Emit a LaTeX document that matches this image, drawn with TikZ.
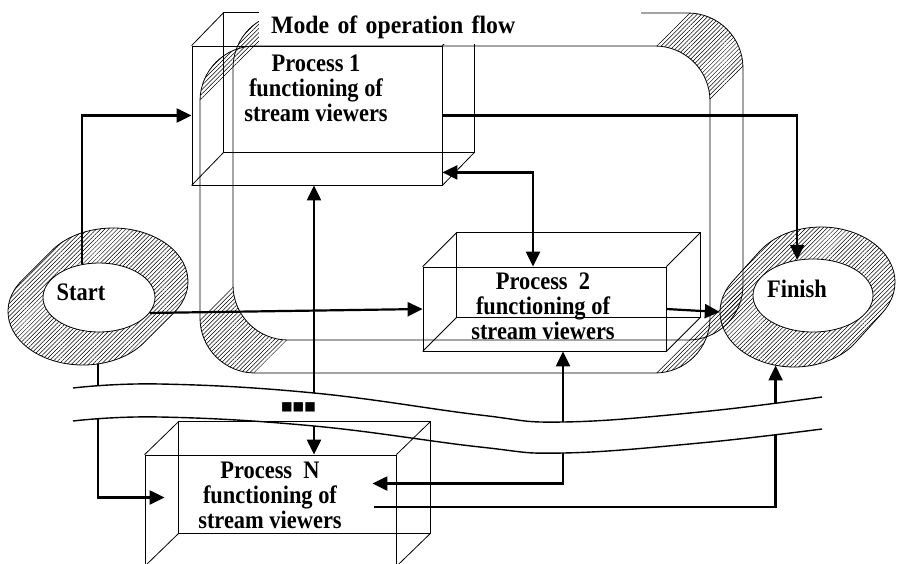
\documentclass[tikz,border=0pt]{standalone}
\usepackage{fontspec}
\setmainfont{Liberation Serif}[FakeStretch=0.89]
\newfontfamily\titlefont{Liberation Serif}[FakeStretch=0.95]
\newfontfamily\symfont{DejaVu Sans}
\usetikzlibrary{shapes.geometric,arrows.meta,calc,patterns.meta}

\tikzset{
  thinline/.style={line width=0.8pt},
  face/.style={draw=black, line width=0.8pt, shape=rectangle, inner sep=0pt},
  hole/.style={draw=black, fill=white, line width=0.8pt, shape=ellipse, inner sep=0pt},
  rim/.style={shape=ellipse, inner sep=0pt},
  lbl/.style={font=\bfseries\fontsize{25.2}{25}\selectfont, align=center, inner sep=0pt},
  hatch/.style={pattern={Lines[angle=45,distance=3pt,line width=0.5pt]}},
  conn/.style={line width=2.2pt, -{Triangle[length=15pt,width=14pt]}},
  conn2/.style={line width=2.2pt, {Triangle[length=15pt,width=14pt]}-{Triangle[length=15pt,width=14pt]}},
  wave/.style={line width=1.4pt},
}

\begin{document}
\begin{tikzpicture}[x=1pt, y=-1pt]
\useasboundingbox (0,0) rectangle (897,563);

% mode of operation frame
\fill[hatch] (655,46) arc[start angle=90,end angle=0,radius=55pt] -- ++(33,-33) arc[start angle=0,end angle=90,radius=55pt] -- cycle;
\fill[hatch] (200,318) arc[start angle=180,end angle=270,radius=55pt] -- ++(33,-33) arc[start angle=270,end angle=180,radius=55pt] -- cycle;
\fill[hatch] (200,101) arc[start angle=180,end angle=90,radius=55pt] -- cycle (233,68) arc[start angle=180,end angle=90,radius=55pt] -- cycle;
\fill[hatch] (655,373) arc[start angle=270,end angle=360,radius=55pt] -- cycle (688,340) arc[start angle=270,end angle=360,radius=55pt] -- cycle;
\draw[thinline, rounded corners=55pt] (200,46) rectangle (710,373);
\draw[thinline, rounded corners=55pt] (233,13) rectangle (743,340);

% start and finish
\node[rim, minimum width=150pt, minimum height=107pt] (sfront) at (83,311.5) {};
\draw[thinline, hatch] ($(sfront.center)+(144.5:75pt and 53.5pt)$) arc[start angle=144.5,end angle=324.5,x radius=75pt,y radius=53.5pt] -- ++(30,-30) arc[start angle=-35.5,end angle=144.5,x radius=75pt,y radius=53.5pt] -- cycle;
\node[hole, minimum width=112pt, minimum height=69pt] (start) at (99,297.5) {};
\node[lbl, anchor=base] (starttxt) at (81,300) {Start};

\node[rim, minimum width=148pt, minimum height=110pt] (ffront) at (794,312) {};
\draw[thinline, hatch] ($(ffront.center)+(146.2:74pt and 55pt)$) arc[start angle=146.2,end angle=326.2,x radius=74pt,y radius=55pt] -- ++(27,-30) arc[start angle=-33.8,end angle=146.2,x radius=74pt,y radius=55pt] -- cycle;
\node[hole, minimum width=120pt, minimum height=73pt] (finish) at (813,295.5) {};
\node[lbl, anchor=base] (finishtxt) at (797,297) {Finish};

% processes
\node[face, minimum width=250pt, minimum height=139pt] (p1) at (317,115.5) {};
\draw[thinline] ($(p1.north west)+(32,-33)$) rectangle ($(p1.south east)+(32,-33)$);
\foreach \c in {north west,north east,south west,south east}
  \draw[thinline] (p1.\c) -- ++(32,-33);
\node[lbl, anchor=north] (p1txt) at (316,54.5) {Process 1\\functioning of\\stream viewers};

\node[face, minimum width=243pt, minimum height=84pt] (p2) at (544.5,309) {};
\draw[thinline] ($(p2.north west)+(34,-34)$) rectangle ($(p2.south east)+(34,-34)$);
\foreach \c in {north west,north east,south west,south east}
  \draw[thinline] (p2.\c) -- ++(34,-34);
\node[lbl, anchor=north] (p2txt) at (543,272.7) {Process~~2\\functioning of\\stream viewers};

\node[face, minimum width=251pt, minimum height=111pt] (pn) at (270.5,510.5) {};

\node[fill=white, inner xsep=12pt, inner ysep=0pt, text width=358pt, align=left, text height=33pt, text depth=11pt, anchor=base west, font=\titlefont\bfseries\fontsize{25}{26}\selectfont] (title) at (259,33) {Mode of operation flow};

% flows
\draw[conn] (start.117) |- (p1.west);
\draw[conn] (p1.east) -| (finish.114);
\draw[conn] (start.-17) -- (p2.west);
\draw[conn] (p2.east) -- (ffront.west);
\coordinate (p1r) at ($(p1.south east)+(0,-13)$);
\draw[conn2] (p1r) -| ($(p2.north)+(-11.5,0)$);
\coordinate (p1b) at ($(p1.south)+(-3,0)$);
\draw[conn2] (p1b) -- (p1b |- pn.north);
\coordinate (pnin) at ($(pn.east)+(-24,-27)$);
\draw[conn2] (pnin) -| ($(p2.south)+(18.5,0)$);
\coordinate (pnout) at ($(pn.east)+(-22,-3.5)$);
\draw[conn] (pnout) -| (ffront.251);
\coordinate (pnleft) at ($(pn.west)+(20,-13)$);
\draw[conn] (sfront.286) |- (pnleft);

% break
\fill[white] plot[smooth, tension=0.7] coordinates {(73,388) (160,384) (314,393) (480,415) (563,422) (700,412) (822,397)}
  -- plot[smooth, tension=0.7] coordinates {(822,429) (700,443) (563,453) (480,447) (314,426) (160,417) (73,421)} -- cycle;
\draw[wave] plot[smooth, tension=0.7] coordinates {(73,388) (160,384) (314,393) (480,415) (563,422) (700,412) (822,397)};
\draw[wave] plot[smooth, tension=0.7] coordinates {(73,421) (160,417) (314,426) (480,447) (563,453) (700,443) (822,429)};
\node[inner sep=0pt, font=\symfont\fontsize{12.2}{13}\selectfont] (dots) at (298.5,407) {■■■};

\draw[thinline] ($(pn.north west)+(34,-33)$) rectangle ($(pn.south east)+(34,-33)$);
\foreach \c in {north west,north east,south west,south east}
  \draw[thinline] (pn.\c) -- ++(34,-33);
\node[lbl, anchor=north] (pntxt) at (270,461.3) {Process~~N\\functioning of\\stream viewers};
\end{tikzpicture}
\end{document}
